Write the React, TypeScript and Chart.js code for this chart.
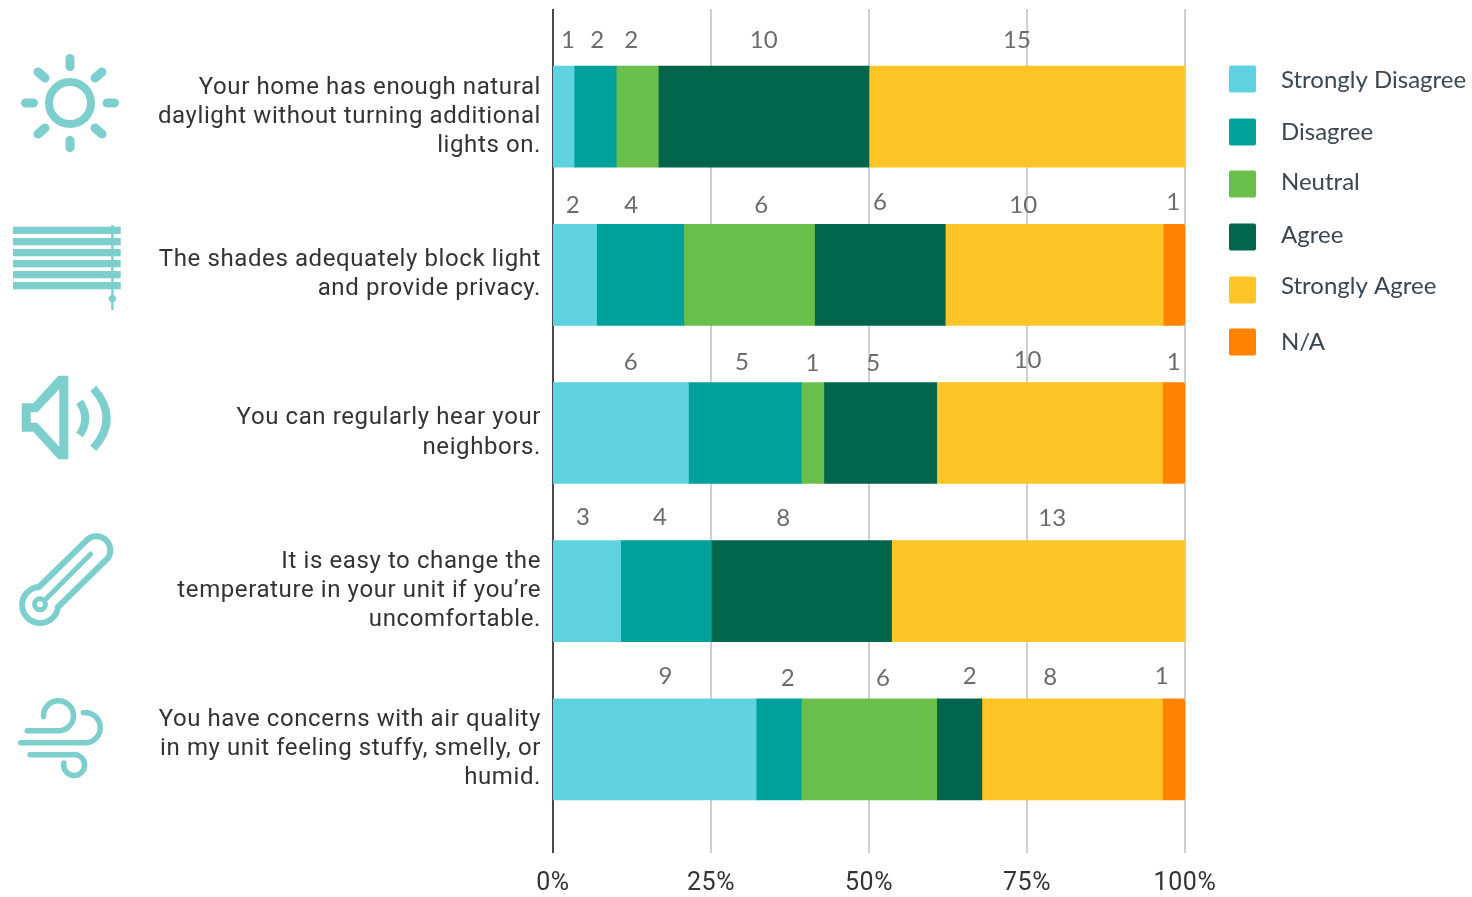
import React, { useEffect, useRef } from "react";
import { Chart, registerables } from "chart.js";

Chart.register(...registerables);

const questions = [
  ["Your home has enough natural", "daylight without turning additional", "lights on."],
  ["The shades adequately block light", "and provide privacy."],
  ["You can regularly hear your", "neighbors."],
  ["It is easy to change the", "temperature in your unit if you’re", "uncomfortable."],
  ["You have concerns with air quality", "in my unit feeling stuffy, smelly, or", "humid."],
];

const responseNames = ["Strongly Disagree", "Disagree", "Neutral", "Agree", "Strongly Agree", "N/A"];
const responseColors = ["#5fd2e2", "#00a19a", "#6abf4b", "#00654a", "#ffc425", "#ff8300"];

const stronglyDisagree = [1, 2, 6, 3, 9];
const disagree = [2, 4, 5, 4, 2];
const neutral = [2, 6, 1, 0, 6];
const agree = [10, 6, 5, 8, 2];
const stronglyAgree = [15, 10, 10, 13, 8];
const notApplicable = [0, 1, 1, 0, 1];

const responseCounts = [stronglyDisagree, disagree, neutral, agree, stronglyAgree, notApplicable];

// Count labels sit above each bar, shifted sideways so neighbours stay readable.
const labelShiftX = [
  [4.5, 2, -6, 0, -10, 0],
  [-2, -9, 12, 0, -31, -1],
  [10, -3, 0, -7, -22, 0],
  [-4, -6, 0, -18, 14, 0],
  [11, 9, 14, 10.5, -22, -12],
];
const labelRiseY = [
  [76, 76, 76, 76, 76, 76],
  [70, 70, 70, 73, 70, 73],
  [71, 71, 70, 70, 73, 71],
  [74, 74, 74, 73, 73, 73],
  [73, 71, 71, 73, 72, 73],
];

const legendSwatchY = [79, 132, 184, 237, 290, 342];
const legendTextY = [80, 132, 182, 235, 286, 342];

const totals = questions.map((_, row) => responseCounts.reduce((sum, series) => sum + series[row], 0));

const frame = {
  id: "frame",
  beforeDraw(chart: any) {
    // Axis text is set with a little extra tracking.
    chart.ctx.letterSpacing = "0.6px";
  },
  beforeDatasetsDraw(chart: any) {
    const { ctx, scales } = chart;
    ctx.letterSpacing = "0px";
    ctx.save();
    ctx.strokeStyle = "#cfcfcf";
    ctx.lineWidth = 2;
    for (const tick of scales.x.ticks) {
      const x = scales.x.getPixelForValue(tick.value);
      ctx.beginPath();
      ctx.moveTo(x, 9);
      ctx.lineTo(x, 853);
      ctx.stroke();
    }
    ctx.strokeStyle = "#4a4a4a";
    const x0 = scales.x.getPixelForValue(0);
    ctx.beginPath();
    ctx.moveTo(x0, 9);
    ctx.lineTo(x0, 853);
    ctx.stroke();
    ctx.restore();
  },
};

const countLabels = {
  id: "countLabels",
  afterDatasetsDraw(chart: any) {
    const { ctx } = chart;
    ctx.save();
    ctx.font = "24px Lato";
    ctx.fillStyle = "#6b6b6b";
    ctx.textAlign = "center";
    ctx.textBaseline = "middle";
    chart.data.datasets.forEach((_: any, s: number) => {
      chart.getDatasetMeta(s).data.forEach((bar: any, row: number) => {
        const count = responseCounts[s][row];
        if (!count) return;
        const centre = (bar.base + bar.x) / 2;
        ctx.fillText(String(count), centre + labelShiftX[row][s], bar.y - labelRiseY[row][s]);
      });
    });
    ctx.restore();
  },
};

const sideLegend = {
  id: "sideLegend",
  afterDraw(chart: any) {
    const { ctx } = chart;
    ctx.save();
    ctx.font = "24px Lato";
    ctx.textBaseline = "middle";
    chart.data.datasets.forEach((ds: any, i: number) => {
      ctx.fillStyle = ds.backgroundColor;
      ctx.beginPath();
      ctx.roundRect(1229, legendSwatchY[i] - 13.5, 27, 27, 2);
      ctx.fill();
      ctx.fillStyle = "#3c4650";
      ctx.fillText(ds.label, 1281, legendTextY[i]);
    });
    ctx.restore();
  },
};

function Icons() {
  const teal = "#7dcfce";
  const line = { fill: "none", stroke: teal, strokeLinecap: "round" as const };
  return (
    <svg width={140} height={897} style={{ position: "absolute", left: 0, top: 0 }}>
      <circle cx={70} cy={103} r={21} fill="none" stroke={teal} strokeWidth={8} />
      <g {...line} strokeWidth={9}>
        <path d="M70 58.5V66.5M70 140.5V147.5M25.5 103H33.5M107 103H114.5" />
        <path d="M38 72L45 78M102 72L95 78M38 134L45 128M102 134L95 128" />
      </g>
      <g fill={teal}>
        <rect x={13} y={226.7} width={107.7} height={7.3} />
        <rect x={13} y={238} width={107.7} height={7.3} />
        <rect x={13} y={249} width={107.7} height={7.3} />
        <rect x={13} y={260} width={107.7} height={7.3} />
        <rect x={13} y={271} width={107.7} height={7.3} />
        <rect x={13} y={282} width={107.7} height={7.3} />
        <rect x={111.2} y={225} width={2.4} height={85} />
        <circle cx={112.4} cy={298.7} r={3.6} />
      </g>
      <path
        fillRule="evenodd"
        fill={teal}
        d="M21.7 403.3H33.3L58.3 375.7H68.3V459.3H58.3L33.3 431.7H21.7ZM30.7 412.3V422.7H37.3L59.3 446.7V389.3L37.3 412.3Z"
      />
      <g fill="none" stroke={teal} strokeWidth={8}>
        <path d="M79.5 401.7Q91 418.3 79.5 435" />
        <path d="M93.3 388.3Q120 418.3 93.3 448.3" />
      </g>
      <g {...line} strokeWidth={6}>
        <path d="M39 587L88 539A14 14 0 0 1 108 558L58 607A18 18 0 1 1 39 587Z" />
        <path d="M90.7 554L46.7 598.3" strokeWidth={5} />
        <circle cx={40} cy={604.3} r={5.5} strokeWidth={5} />
      </g>
      <g {...line} strokeWidth={5.5}>
        <path d="M27.3 730.7H60A15 15 0 1 0 43.5 716.7" />
        <path d="M20.7 742.7H87A15 15 0 0 0 83.3 712.7" />
        <path d="M30 754.7H72A10.5 10.5 0 1 1 63.8 763" />
      </g>
    </svg>
  );
}

export default function App() {
  const canvasRef = useRef<HTMLCanvasElement>(null);

  useEffect(() => {
    const chart = new Chart(canvasRef.current as HTMLCanvasElement, {
      type: "bar",
      plugins: [frame, countLabels, sideLegend],
      data: {
        labels: questions,
        datasets: responseNames.map((label, s) => ({
          label,
          backgroundColor: responseColors[s],
          data: responseCounts[s].map((count, row) => (count / totals[row]) * 100),
          barThickness: 101,
          borderRadius: s === 5 ? { topRight: 3, bottomRight: 3, topLeft: 0, bottomLeft: 0 } : 0,
          borderSkipped: false,
        })),
      },
      options: {
        indexAxis: "y",
        responsive: false,
        animation: false,
        layout: { autoPadding: false, padding: { top: 37.5, right: 287, left: 0, bottom: 0 } },
        plugins: { legend: { display: false }, tooltip: { enabled: false } },
        scales: {
          x: {
            stacked: true,
            min: 0,
            max: 100,
            grid: { display: false, drawTicks: false },
            border: { display: false },
            afterFit: (scale: any) => {
              scale.height = 68.5;
            },
            ticks: {
              stepSize: 25,
              padding: 40,
              maxRotation: 0,
              color: "#333333",
              font: { family: "Roboto", size: 25 },
              callback: (value: any) => `${value}%`,
            },
          },
          y: {
            stacked: true,
            grid: { display: false, drawTicks: false },
            border: { display: false },
            afterFit: (scale: any) => {
              scale.width = 553;
              scale.paddingTop = 0;
              scale.paddingBottom = 0;
            },
            ticks: {
              padding: 12,
              crossAlign: "near",
              color: "#333333",
              font: { family: "Roboto", size: 24, lineHeight: 1.21 },
            },
          },
        },
      },
    } as any);
    return () => chart.destroy();
  }, []);

  return (
    <div style={{ position: "absolute", left: 0, top: 0, width: 1472, height: 897, background: "#fff" }}>
      <canvas ref={canvasRef} width={1472} height={897} style={{ display: "block" }} />
      <Icons />
    </div>
  );
}
